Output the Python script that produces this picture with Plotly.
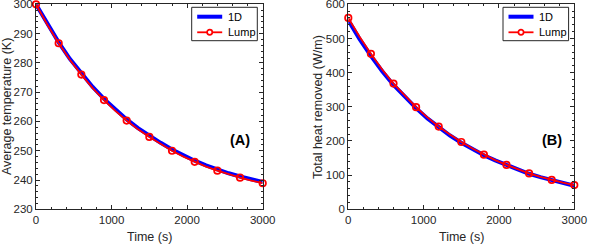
import plotly.graph_objects as go

# ---------------- data ----------------
time_s = [0, 150, 300, 450, 600, 750, 900, 1050, 1200, 1350, 1500,
          1650, 1800, 1950, 2100, 2250, 2400, 2550, 2700, 2850, 3000]

temp_1d = [300, 293.2, 287.0, 281.3, 276.3, 271.8, 267.7, 264.0, 260.7, 257.7, 255.1,
           252.7, 250.4, 248.4, 246.6, 245.0, 243.6, 242.3, 241.2, 240.2, 239.3]
temp_lump = [300, 293.0, 286.7, 281.0, 276.0, 271.4, 267.3, 263.6, 260.3, 257.3, 254.7,
             252.3, 250.0, 248.0, 246.2, 244.6, 243.2, 241.9, 240.8, 239.8, 238.9]

heat_1d = [553, 498, 449, 404, 364, 328, 296, 266, 240, 216, 195,
           176, 158, 143, 129, 116, 104, 94, 85, 77, 69]
heat_lump = [560, 505, 455, 409, 368, 332, 299, 269, 242, 219, 197,
             178, 160, 144, 130, 117, 105, 95, 86, 78, 71]

series_names = ["1D", "Lump"]
x_ticks = [0, 1000, 2000, 3000]
temp_ticks = [230, 240, 250, 260, 270, 280, 290, 300]
heat_ticks = [0, 100, 200, 300, 400, 500, 600]

# ---------------- style ----------------
W, H = 589, 244
BLUE = "#0000ff"
RED = "#ff0000"
AX = "#262626"
FONT = "Liberation Sans, Arial, Helvetica, sans-serif"

fig = go.Figure()

panels = [
    ("x", "y", temp_1d, temp_lump),
    ("x2", "y2", heat_1d, heat_lump),
]
for xa, ya, d1, dl in panels:
    fig.add_trace(go.Scatter(x=time_s, y=d1, mode="lines", name=series_names[0],
                             line=dict(color=BLUE, width=4), xaxis=xa, yaxis=ya))
    fig.add_trace(go.Scatter(x=time_s, y=dl, mode="lines", name=series_names[1],
                             line=dict(color=RED, width=1.8), xaxis=xa, yaxis=ya))
    fig.add_trace(go.Scatter(x=time_s[::2], y=dl[::2], mode="markers", name=series_names[1],
                             marker=dict(symbol="circle-open", size=6.5, color=RED,
                                         line=dict(width=1.7, color=RED)),
                             cliponaxis=False, xaxis=xa, yaxis=ya))

def axis_style(**kw):
    d = dict(showline=True, linecolor=AX, linewidth=1, mirror="ticks",
             ticks="inside", ticklen=4, tickwidth=1, tickcolor=AX,
             showgrid=False, zeroline=False, automargin=False,
             ticklabeloverflow="allow",
             tickfont=dict(family=FONT, size=11.5, color=AX),
             minor=dict(ticks="inside", ticklen=2, tickwidth=1, tickcolor=AX, showgrid=False))
    d.update(kw)
    return d

y0, y1 = 1 - 209.3 / H, 1 - 4.3 / H
fig.update_layout(
    width=W, height=H, margin=dict(l=0, r=0, t=0, b=0),
    paper_bgcolor="white", plot_bgcolor="white",
    font=dict(family=FONT, color=AX),
    showlegend=False,
    xaxis=axis_style(domain=[36 / W, 262.7 / W], range=[0, 3000], tickvals=x_ticks,
                     anchor="y", minor_dtick=200),
    yaxis=axis_style(domain=[y0, y1], range=[230, 300], tickvals=temp_ticks,
                     anchor="x", minor_dtick=2),
    xaxis2=axis_style(domain=[348.3 / W, 574.3 / W], range=[0, 3000], tickvals=x_ticks,
                      anchor="y2", minor_dtick=200),
    yaxis2=axis_style(domain=[y0, y1], range=[0, 600], tickvals=heat_ticks,
                      anchor="x2", minor_dtick=20),
)

ann = [
    dict(text="Average temperature (K)", x=7 / W, y=1 - 107 / H, textangle=-90),
    dict(text="Total heat removed (W/m)", x=318 / W, y=1 - 107 / H, textangle=-90),
    dict(text="Time (s)", x=149.3 / W, y=1 - 236.5 / H, textangle=0),
    dict(text="Time (s)", x=461.3 / W, y=1 - 236.5 / H, textangle=0),
]
for a in ann:
    fig.add_annotation(text=a["text"], x=a["x"], y=a["y"], xref="paper", yref="paper",
                       xanchor="center", yanchor="middle", textangle=a["textangle"],
                       showarrow=False, font=dict(family=FONT, size=12.5, color=AX))

for label, cx in [("(A)", 240), ("(B)", 552)]:
    fig.add_annotation(text="<b>" + label + "</b>", x=cx / W, y=1 - 140 / H,
                       xref="paper", yref="paper", xanchor="center", yanchor="middle",
                       showarrow=False, font=dict(family=FONT, size=14.5, color="#000000"))

# ---------------- manual legends (pixel layout) ----------------
def px(x):
    return x / W

def py(y):
    return 1 - y / H

for left in [191.7, 503.0]:
    right = left + 65.6
    fig.add_shape(type="rect", xref="paper", yref="paper",
                  x0=px(left), x1=px(right), y0=py(40.7), y1=py(7.3),
                  line=dict(color=AX, width=1), fillcolor="white", layer="above")
    fig.add_shape(type="line", xref="paper", yref="paper",
                  x0=px(left + 5.5), x1=px(left + 30.5), y0=py(16.7), y1=py(16.7),
                  line=dict(color=BLUE, width=4), layer="above")
    fig.add_shape(type="line", xref="paper", yref="paper",
                  x0=px(left + 5.5), x1=px(left + 30.5), y0=py(32.3), y1=py(32.3),
                  line=dict(color=RED, width=1.8), layer="above")
    fig.add_shape(type="circle", xref="paper", yref="paper",
                  xsizemode="pixel", ysizemode="pixel",
                  xanchor=px(left + 18), yanchor=py(32.3),
                  x0=-2.6, x1=2.6, y0=-2.6, y1=2.6,
                  line=dict(color=RED, width=1.7), fillcolor="white", layer="above")
    for name, yy in zip(series_names, [16.7, 32.3]):
        fig.add_annotation(text=name, x=px(left + 34), y=py(yy), xref="paper", yref="paper",
                           xanchor="left", yanchor="middle", showarrow=False,
                           font=dict(family=FONT, size=11, color="#000000"))

fig.write_html("out.html",
               config={"displayModeBar": False, "staticPlot": True},
               post_script="document.body.style.margin='0';document.body.style.overflow='hidden';")
